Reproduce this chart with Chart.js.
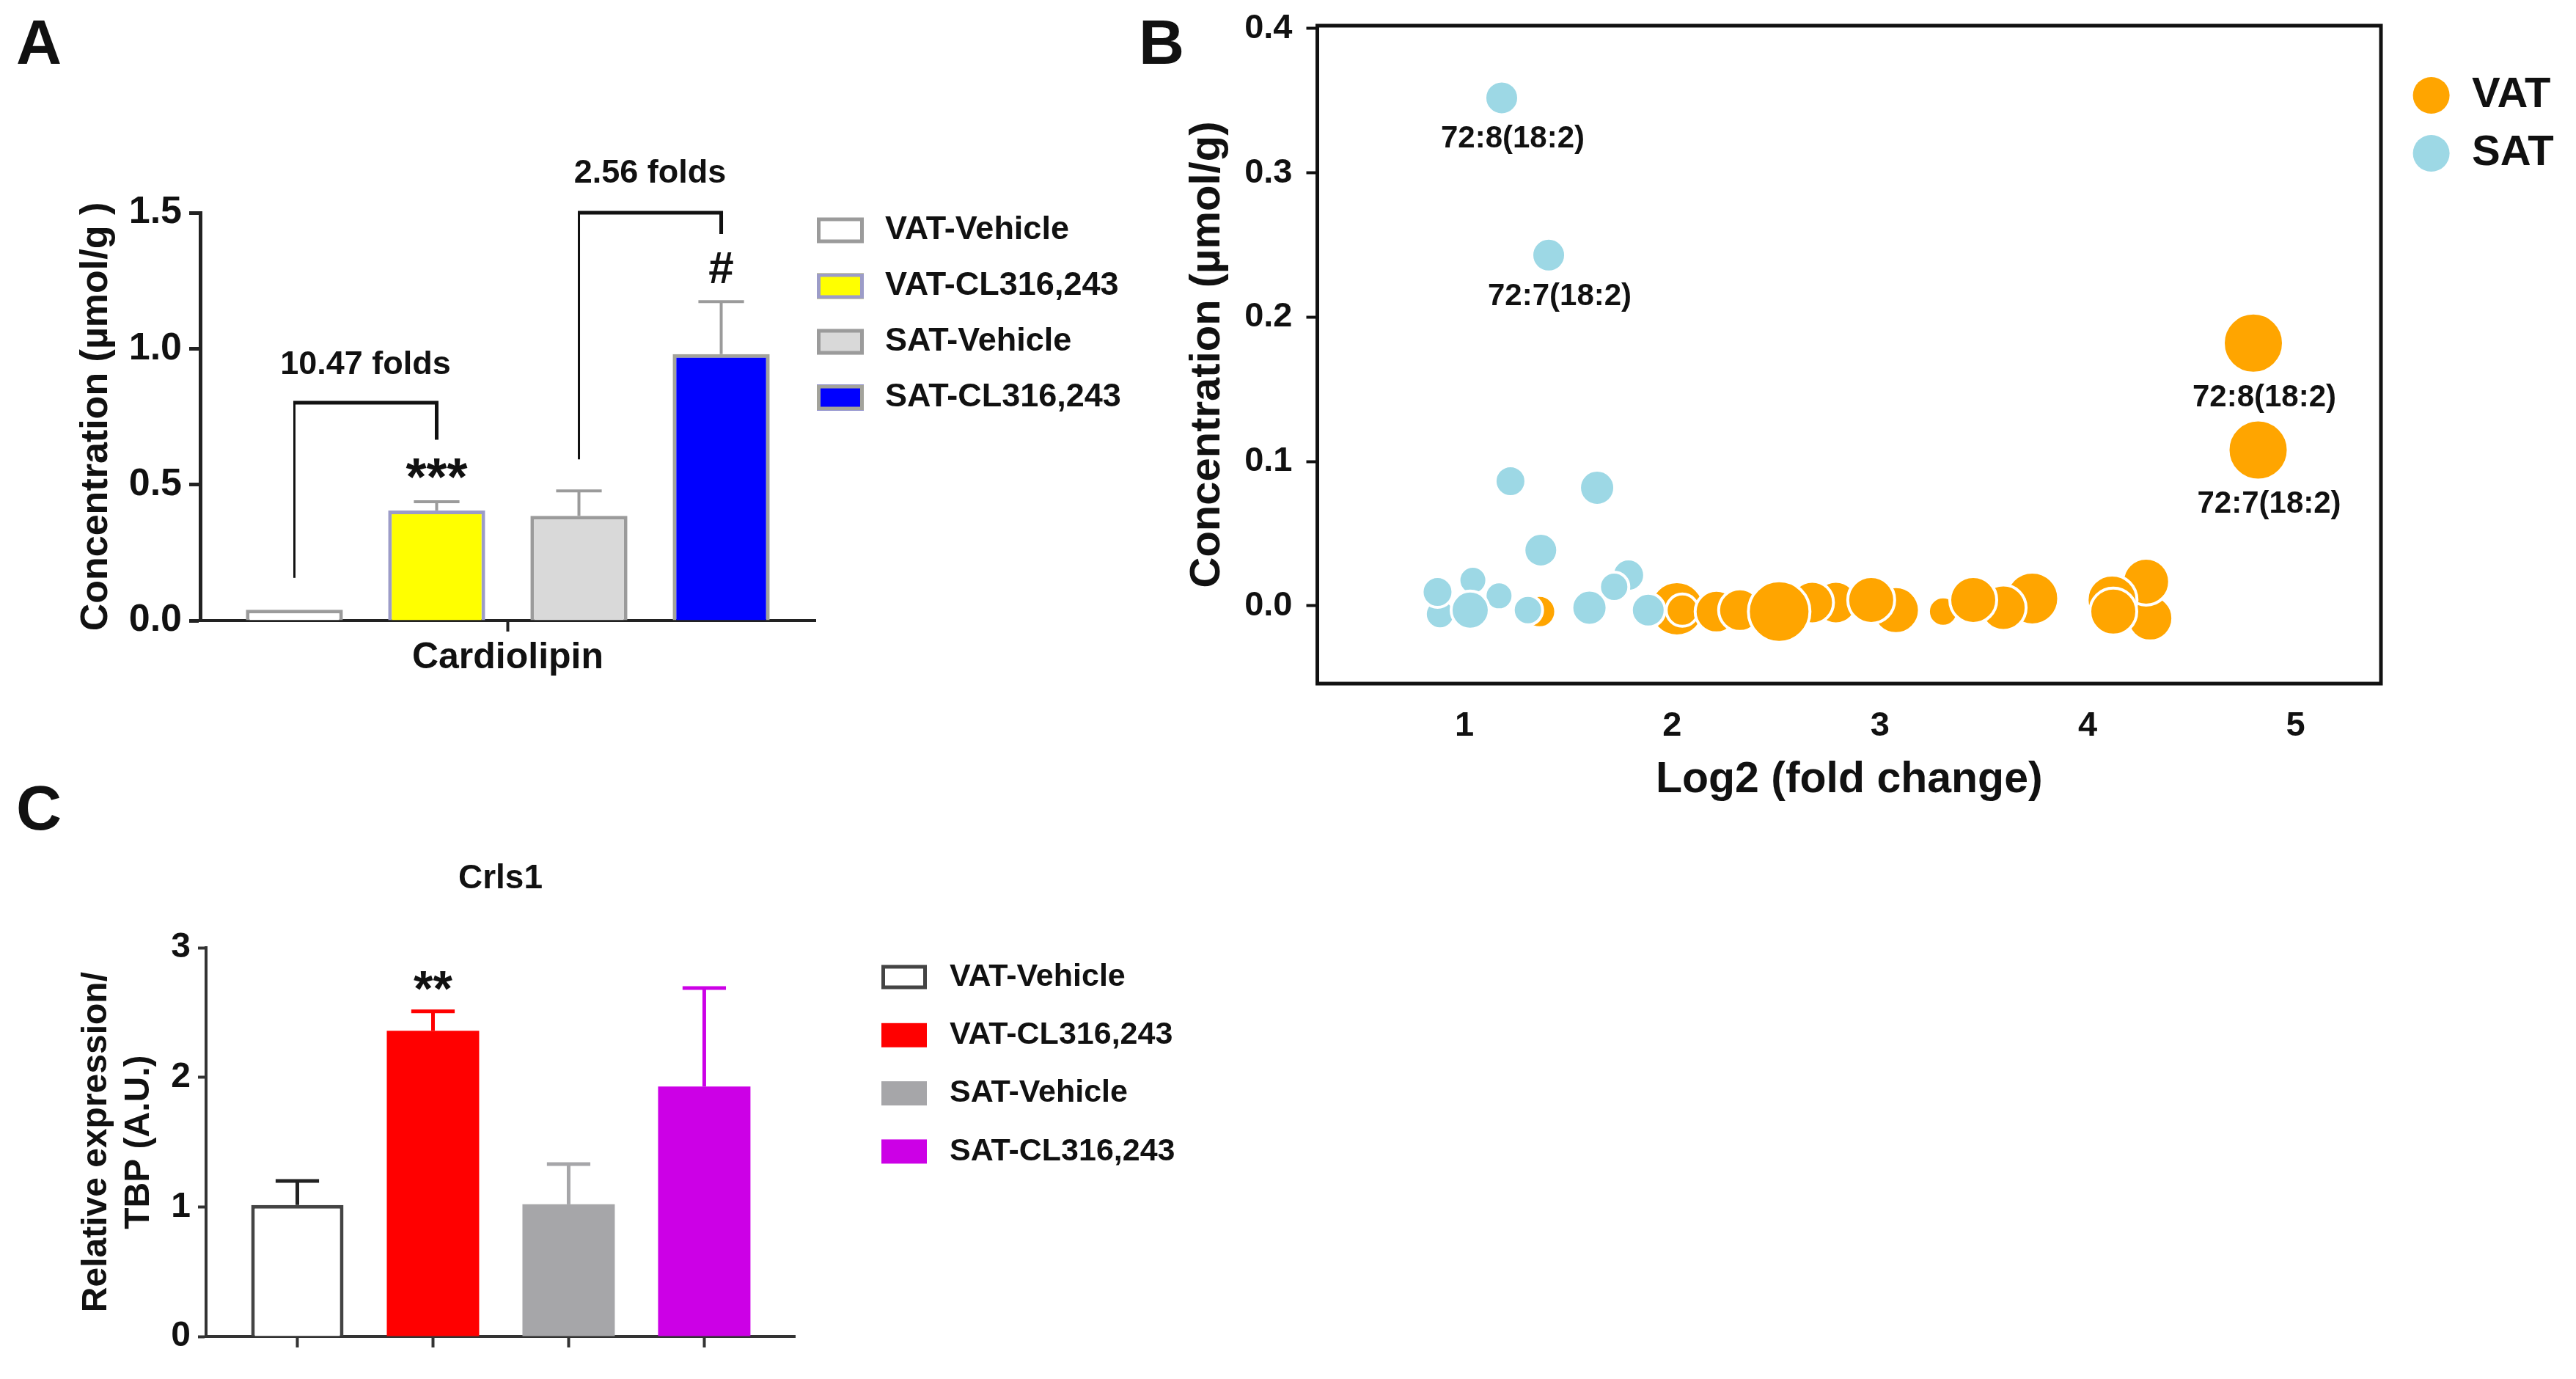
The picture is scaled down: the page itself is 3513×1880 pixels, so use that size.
<!DOCTYPE html>
<html>
<head>
<meta charset="utf-8">
<title>Cardiolipin and Crls1 in VAT / SAT</title>
<script src="https://cdn.jsdelivr.net/npm/chart.js"></script>
<style>
  html, body { margin: 0; padding: 0; background: #fff; }
  body { width: 3513px; height: 1880px; position: relative; overflow: hidden;
         font-family: 'Liberation Sans', Arial, Helvetica, sans-serif; }
  canvas { position: absolute; }
  .tag { position: absolute; font-weight: bold; font-size: 86px; line-height: 1; color: #111; }
</style>
</head>
<body>
<div class="tag" style="left:22px;top:14px">A</div>
<div class="tag" style="left:1553px;top:14px">B</div>
<div class="tag" style="left:22px;top:1058px">C</div>

<canvas id="chartA" width="1560" height="1000" style="left:0;top:0"></canvas>
<canvas id="chartB" width="1953" height="1100" style="left:1560px;top:0"></canvas>
<canvas id="chartC" width="1700" height="830" style="left:0;top:1050px"></canvas>

<script>
// ---------- data ----------
var groups = ['VAT-Vehicle', 'VAT-CL316,243', 'SAT-Vehicle', 'SAT-CL316,243'];

// A: cardiolipin concentration (umol/g), mean and SEM
var cardioCategory = ['Cardiolipin'];
var cardioMean = [0.04, 0.405, 0.385, 0.98];
var cardioSem = [0, 0.032, 0.092, 0.193];
var cardioTicks = [0, 0.5, 1.0, 1.5];

// B: cardiolipin species, log2 fold change vs concentration
// listed in drawing order (later ones sit on top)
var vatFold = [1.362, 2.023, 2.049, 2.213, 2.326, 2.788, 3.077, 2.674, 2.515, 2.958,
               3.304, 3.733, 3.594, 3.449, 4.30, 4.281, 4.117, 4.123, 4.797, 4.82];
var vatConc = [-0.004, -0.002, -0.003, -0.004, -0.003, 0.0023, -0.003, 0.0023, -0.004, 0.0041,
               -0.004, 0.0051, -0.0013, 0.0041, -0.0086, 0.0168, 0.0041, -0.004, 0.182, 0.108];
var vatSize = [5, 8.75, 5, 6.75, 6.75, 6.75, 7.5, 6.75, 10, 7.5,
               4.5, 8.5, 7.25, 7.5, 7.25, 7.5, 8, 7.5, 9.75, 9.75];
var vatName = ['', '', '', '', '', '', '', '', '', '',
               '', '', '', '', '', '', '', '', '72:8(18:2)', '72:7(18:2)'];

var satFold = [0.883, 1.041, 1.167, 0.871, 1.028, 1.79, 1.721, 1.306, 1.368, 1.602,
               1.885, 1.222, 1.639, 1.406, 1.18];
var satConc = [-0.0058, 0.0177, 0.0069, 0.0096, -0.003, 0.0213, 0.0132, -0.003, 0.0386, -0.0013,
               -0.003, 0.0864, 0.0818, 0.243, 0.352];
var satSize = [4.5, 4.25, 4.25, 4.75, 6, 5, 4.5, 4.5, 5.25, 5.5,
               5.25, 4.75, 5.5, 5.25, 5.25];
var satName = ['', '', '', '', '', '', '', '', '', '',
               '', '', '', '72:7(18:2)', '72:8(18:2)'];

var foldTicks = [1, 2, 3, 4, 5];
var concTicks = [0, 0.1, 0.2, 0.3, 0.4];

// C: Crls1 relative expression / TBP, mean and SEM
var crlsMean = [1.015, 2.36, 1.02, 1.93];
var crlsSem = [0.185, 0.15, 0.31, 0.76];
var crlsTicks = [0, 1, 2, 3];

// ---------- styles ----------
var FONT = "'Liberation Sans', Arial, Helvetica, sans-serif";
var aFill = ['#ffffff', '#ffff00', '#d9d9d9', '#0000ff'];
var aEdge = ['#9b9b9b', '#9c9cc8', '#9b9b9b', '#a3a39b'];
var cFill = ['#ffffff', '#ff0000', '#a6a6a9', '#cc00e6'];
var cEdge = ['#444444', '#ff0000', '#a6a6a9', '#cc00e6'];
var cErr = ['#222222', '#ff0000', '#a6a6a9', '#cc00e6'];
var vatColor = '#ffa500';
var satColor = '#9dd8e5';

Chart.defaults.font.family = FONT;
Chart.defaults.font.weight = 'bold';
Chart.defaults.color = '#111';
Chart.defaults.animation = false;
Chart.defaults.events = [];
Chart.defaults.plugins.legend.display = false;
Chart.defaults.plugins.tooltip.enabled = false;

function drawCentered(ctx, text, x, y, font) {
    ctx.save();
    ctx.font = font;
    ctx.fillStyle = '#111';
    ctx.textAlign = 'center';
    ctx.textBaseline = 'alphabetic';
    var m = ctx.measureText(text);
    ctx.fillText(text, x, y + (m.actualBoundingBoxAscent - m.actualBoundingBoxDescent) / 2);
    ctx.restore();
}

// upper SEM bars on top of the bars
var errorBars = {
    id: 'errorBars',
    afterDatasetsDraw: function(chart, args, o) {
        var ctx = chart.ctx, ys = chart.scales.y;
        chart.data.datasets.forEach(function(ds, di) {
            var meta = chart.getDatasetMeta(di);
            meta.data.forEach(function(bar, i) {
                var err = ds.errors ? ds.errors[i] : 0;
                if (!err) return;
                var v = meta.controller.getParsed(i).y;
                var top = ys.getPixelForValue(v + err);
                var cap = bar.width * o.capRatio;
                ctx.save();
                ctx.strokeStyle = Array.isArray(ds.errorColor) ? ds.errorColor[i] : ds.errorColor;
                ctx.lineWidth = o.lineWidth;
                ctx.beginPath();
                ctx.moveTo(bar.x, bar.y);
                ctx.lineTo(bar.x, top);
                ctx.stroke();
                ctx.beginPath();
                ctx.moveTo(bar.x - cap / 2, top);
                ctx.lineTo(bar.x + cap / 2, top);
                ctx.stroke();
                ctx.restore();
            });
        });
    }
};

// brackets, fold labels and significance marks
var marks = {
    id: 'marks',
    afterDatasetsDraw: function(chart, args, o) {
        var ctx = chart.ctx, ys = chart.scales.y;
        (o.brackets || []).forEach(function(b) {
            var x1 = o.barX(chart, b.from), x2 = o.barX(chart, b.to);
            var yt = ys.getPixelForValue(b.top);
            ctx.save();
            ctx.strokeStyle = '#111';
            ctx.lineWidth = 3;
            ctx.beginPath();
            ctx.moveTo(x1, ys.getPixelForValue(b.left));
            ctx.lineTo(x1, yt);
            ctx.stroke();
            ctx.lineWidth = 5;
            ctx.beginPath();
            ctx.moveTo(x1 - 1.5, yt);
            ctx.lineTo(x2, yt);
            ctx.lineTo(x2, ys.getPixelForValue(b.right));
            ctx.stroke();
            ctx.restore();
            drawCentered(ctx, b.text, (x1 + x2) / 2, ys.getPixelForValue(b.textAt), 'bold 45px ' + FONT);
        });
        (o.stars || []).forEach(function(s) {
            drawCentered(ctx, s.text, o.barX(chart, s.bar), ys.getPixelForValue(s.at), 'bold ' + s.size + 'px ' + FONT);
        });
    }
};

// legend with filled boxes, placed to the right of the plot
var boxLegend = {
    id: 'boxLegend',
    afterDraw: function(chart, args, o) {
        var ctx = chart.ctx;
        o.items.forEach(function(it, i) {
            var cy = o.top + i * o.step;
            ctx.save();
            ctx.fillStyle = it.fill;
            ctx.fillRect(o.left, cy - o.h / 2, o.w, o.h);
            if (it.edge) {
                ctx.strokeStyle = it.edge;
                ctx.lineWidth = o.edgeWidth;
                ctx.strokeRect(o.left + o.edgeWidth / 2, cy - o.h / 2 + o.edgeWidth / 2,
                               o.w - o.edgeWidth, o.h - o.edgeWidth);
            }
            ctx.fillStyle = '#111';
            ctx.font = 'bold ' + o.fontSize + 'px ' + FONT;
            ctx.textAlign = 'left';
            ctx.textBaseline = 'middle';
            ctx.fillText(it.text, o.textLeft, cy);
            ctx.restore();
        });
    }
};

// ---------- A ----------
new Chart(document.getElementById('chartA'), {
    type: 'bar',
    data: {
        labels: cardioCategory,
        datasets: groups.map(function(g, i) {
            return {
                label: g,
                data: [cardioMean[i]],
                errors: [cardioSem[i]],
                errorColor: '#9b9b9b',
                backgroundColor: aFill[i],
                borderColor: aEdge[i],
                borderWidth: 5,
                categoryPercentage: 0.925,
                barPercentage: 0.682
            };
        })
    },
    options: {
        responsive: false,
        layout: { padding: { top: 290, left: 0, right: 448, bottom: 0 } },
        scales: {
            x: {
                offset: true,
                grid: { offset: false, drawOnChartArea: false, tickLength: 15, tickWidth: 4, tickColor: '#222' },
                border: { width: 4, color: '#222' },
                ticks: { font: { size: 50, weight: 'bold' }, color: '#111', padding: 6 },
                afterFit: function(s) { s.height = 154; }
            },
            y: {
                min: 0, max: 1.5,
                afterBuildTicks: function(s) { s.ticks = cardioTicks.map(function(v) { return { value: v }; }); },
                ticks: { callback: function(v) { return Number(v).toFixed(1); },
                         font: { size: 52, weight: 'bold' }, color: '#111', padding: 10 },
                grid: { drawOnChartArea: false, tickLength: 15, tickWidth: 5, tickColor: '#222' },
                border: { width: 5, color: '#222' },
                title: { display: true, text: 'Concentration (µmol/g )', color: '#111',
                         font: { size: 52, weight: 'bold' }, padding: { top: 100, bottom: 0 } },
                afterFit: function(s) { s.width = 273; }
            }
        },
        plugins: {
            errorBars: { capRatio: 0.47, lineWidth: 4 },
            marks: {
                barX: function(chart, i) { return chart.getDatasetMeta(i).data[0].x; },
                brackets: [
                    { from: 0, to: 1, left: 0.157, top: 0.801, right: 0.665, text: '10.47 folds', textAt: 0.95 },
                    { from: 2, to: 3, left: 0.593, top: 1.5, right: 1.422, text: '2.56 folds', textAt: 1.654 }
                ],
                stars: [
                    { bar: 1, text: '***', at: 0.561, size: 72 },
                    { bar: 3, text: '#', at: 1.299, size: 62 }
                ]
            },
            boxLegend: {
                left: 1114, w: 64, h: 35, top: 314, step: 76, edgeWidth: 5,
                textLeft: 1207, fontSize: 45,
                items: groups.map(function(g, i) { return { text: g, fill: aFill[i], edge: aEdge[i] }; })
            }
        }
    },
    plugins: [errorBars, marks, boxLegend]
});

// ---------- B ----------
function points(xs, ys) {
    return xs.map(function(x, i) { return { x: x, y: ys[i] }; });
}

var frame = {
    id: 'frame',
    afterDatasetsDraw: function(chart) {
        var a = chart.chartArea, ctx = chart.ctx;
        ctx.save();
        ctx.strokeStyle = '#111';
        ctx.lineWidth = 5;
        ctx.strokeRect(a.left, a.top, a.right - a.left, a.bottom - a.top);
        ctx.restore();
    }
};

var pointTags = {
    id: 'pointTags',
    afterDatasetsDraw: function(chart, args, o) {
        chart.data.datasets.forEach(function(ds, di) {
            if (!ds.tags) return;
            chart.getDatasetMeta(di).data.forEach(function(pt, i) {
                var t = ds.tags[i];
                if (!t) return;
                var r = pt.options.radius - 2;
                drawCentered(chart.ctx, t, pt.x + o.dx, pt.y + r + o.gap, 'bold ' + o.fontSize + 'px ' + FONT);
            });
        });
    }
};

var dotLegend = {
    id: 'dotLegend',
    afterDraw: function(chart, args, o) {
        var ctx = chart.ctx;
        chart.data.datasets.forEach(function(ds, i) {
            var cy = o.top + i * o.step;
            ctx.save();
            ctx.fillStyle = ds.pointBackgroundColor;
            ctx.beginPath();
            ctx.arc(o.x, cy, o.r, 0, Math.PI * 2);
            ctx.fill();
            ctx.fillStyle = '#111';
            ctx.font = 'bold ' + o.fontSize + 'px ' + FONT;
            ctx.textAlign = 'left';
            ctx.textBaseline = 'middle';
            ctx.fillText(ds.label, o.textLeft, cy);
            ctx.restore();
        });
    }
};

function sizeToRadius(sizes) {
    return function(ctx) { return 4 * sizes[ctx.dataIndex] + 2; };
}

new Chart(document.getElementById('chartB'), {
    type: 'scatter',
    data: {
        datasets: [
            { label: 'VAT', order: 2, data: points(vatFold, vatConc), tags: vatName,
              pointBackgroundColor: vatColor, pointBorderColor: '#ffffff', pointBorderWidth: 4,
              pointRadius: sizeToRadius(vatSize) },
            { label: 'SAT', order: 1, data: points(satFold, satConc), tags: satName,
              pointBackgroundColor: satColor, pointBorderColor: '#ffffff', pointBorderWidth: 4,
              pointRadius: sizeToRadius(satSize) }
        ]
    },
    options: {
        responsive: false,
        layout: { autoPadding: false, padding: { top: 35, left: 0, right: 266, bottom: 0 } },
        scales: {
            x: {
                type: 'linear', min: 0.2925, max: 5.411,
                afterBuildTicks: function(s) { s.ticks = foldTicks.map(function(v) { return { value: v }; }); },
                ticks: { callback: function(v) { return String(v); }, font: { size: 47, weight: 'bold' },
                         color: '#111', padding: 30 },
                grid: { display: false, drawTicks: false },
                border: { display: false },
                title: { display: true, text: 'Log2 (fold change)', color: '#111',
                         font: { size: 59, weight: 'bold' }, padding: { top: 0, bottom: 1 } },
                afterFit: function(s) { s.height = 168; s.paddingLeft = 0; s.paddingRight = 0; }
            },
            y: {
                min: -0.0539, max: 0.402,
                afterBuildTicks: function(s) { s.ticks = concTicks.map(function(v) { return { value: v }; }); },
                ticks: { callback: function(v) { return Number(v).toFixed(1); }, font: { size: 47, weight: 'bold' },
                         color: '#111', padding: 19 },
                grid: { drawOnChartArea: false, tickLength: 15, tickWidth: 4, tickColor: '#111' },
                border: { display: false },
                title: { display: true, text: 'Concentration (µmol/g)', color: '#111',
                         font: { size: 58, weight: 'bold' }, padding: { top: 52, bottom: 0 } },
                afterFit: function(s) { s.width = 236.5; s.paddingTop = 0; s.paddingBottom = 0; }
            }
        },
        plugins: {
            pointTags: { dx: 15, gap: 36, fontSize: 42 },
            dotLegend: { x: 1755.6, r: 25, top: 130, step: 79, textLeft: 1811, fontSize: 58 }
        }
    },
    plugins: [frame, pointTags, dotLegend]
});

// ---------- C ----------
new Chart(document.getElementById('chartC'), {
    type: 'bar',
    data: {
        datasets: [{
            label: 'Crls1',
            data: crlsMean.map(function(v, i) { return { x: i, y: v }; }),
            errors: crlsSem,
            errorColor: cErr,
            backgroundColor: cFill,
            borderColor: cEdge,
            borderWidth: [5, 0, 0, 0],
            categoryPercentage: 1,
            barPercentage: 0.681
        }]
    },
    options: {
        responsive: false,
        layout: { padding: { top: 0, left: 0, right: 616, bottom: 0 } },
        scales: {
            x: {
                type: 'linear', min: -0.673, max: 3.668, offset: false,
                afterBuildTicks: function(s) { s.ticks = crlsMean.map(function(v, i) { return { value: i }; }); },
                ticks: { display: false },
                grid: { offset: false, drawOnChartArea: false, tickLength: 15, tickWidth: 4, tickColor: '#333' },
                border: { width: 4, color: '#333' },
                afterFit: function(s) { s.height = 58; }
            },
            y: {
                min: 0, max: 3,
                afterBuildTicks: function(s) { s.ticks = crlsTicks.map(function(v) { return { value: v }; }); },
                ticks: { callback: function(v) { return String(v); }, font: { size: 48, weight: 'bold' },
                         color: '#111', padding: 10 },
                grid: { drawOnChartArea: false, tickLength: 11, tickWidth: 4, tickColor: '#333' },
                border: { width: 4, color: '#333' },
                title: { display: true, text: ['Relative expression/', 'TBP (A.U.)'], color: '#111',
                         font: { size: 48, weight: 'bold' }, padding: { top: 103, bottom: 0 } },
                afterFit: function(s) { s.width = 281; }
            }
        },
        plugins: {
            title: { display: true, text: 'Crls1', fullSize: false, color: '#111',
                     font: { size: 46, weight: 'bold' }, padding: { top: 121, bottom: 66 } },
            errorBars: { capRatio: 0.47, lineWidth: 5 },
            marks: {
                barX: function(chart, i) { return chart.getDatasetMeta(0).data[i].x; },
                stars: [ { bar: 1, text: '**', at: 2.745, size: 68 } ]
            },
            boxLegend: {
                left: 1202, w: 62, h: 33, top: 282, step: 79.3, edgeWidth: 5,
                textLeft: 1295, fontSize: 43,
                items: groups.map(function(g, i) { return { text: g, fill: cFill[i], edge: i === 0 ? cEdge[0] : null }; })
            }
        }
    },
    plugins: [errorBars, marks, boxLegend]
});
</script>
</body>
</html>
